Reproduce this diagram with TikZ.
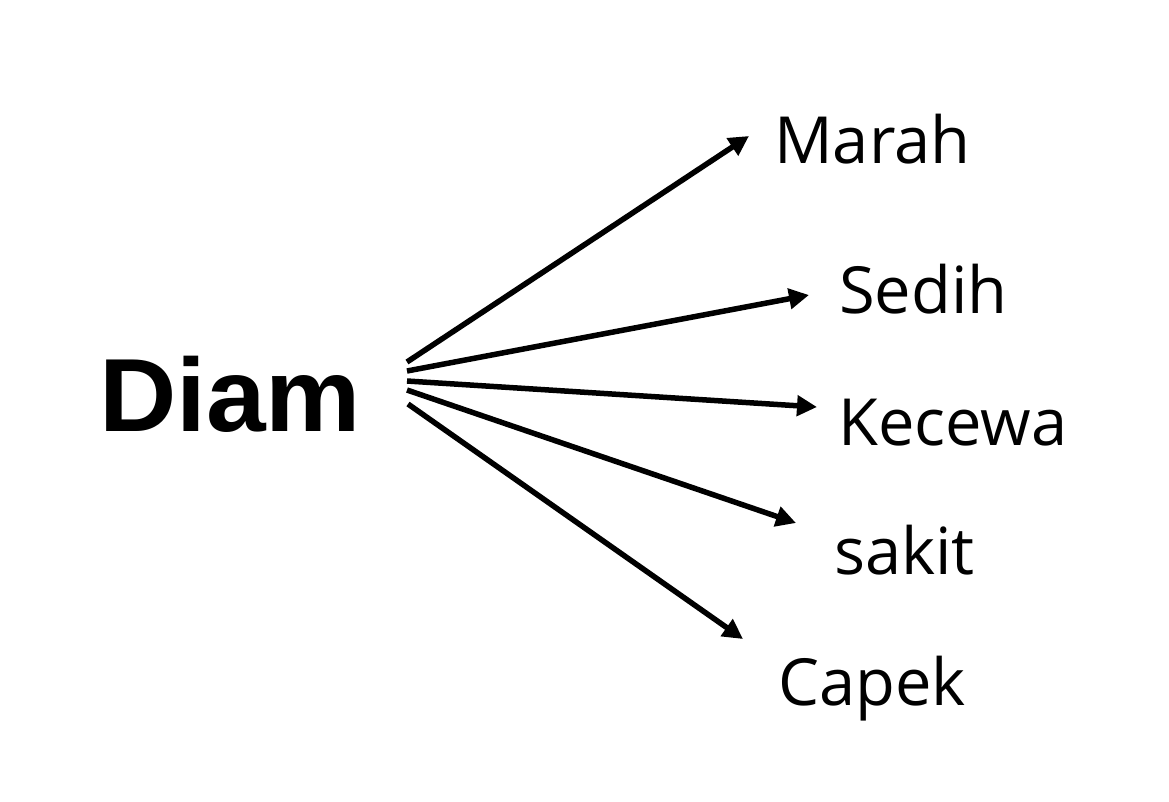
\documentclass[tikz,border=0pt]{standalone}
\usepackage{fontspec}
\setmainfont{Open Sans}
\newfontfamily\diamfont{Liberation Sans}
\usetikzlibrary{arrows.meta}
\tikzset{
  lbl/.style={anchor=base west, inner sep=0pt, font=\fontsize{65}{65}\selectfont},
  conn/.style={line width=5.5pt, -{Triangle[length=20pt,width=20pt]}}
}
\begin{document}
\begin{tikzpicture}[x=1pt,y=-1pt]
\path[fill=white] (0,0) rectangle (1169,801);
\useasboundingbox (0,0) rectangle (1169,801);
\node[anchor=base west, inner sep=0pt, xscale=1.03, font=\diamfont\bfseries\fontsize{104}{104}\selectfont] (diam) at (99,431) {Diam};
\node[lbl] (marah) at (774,163) {Marah};
\node[lbl] (sedih) at (839,313) {Sedih};
\node[lbl] (kecewa) at (838,445) {Kecewa};
\node[lbl] (sakit) at (834,574) {sakit};
\node[lbl] (capek) at (778,705) {Capek};
\coordinate (s1) at (407,362);
\coordinate (s2) at (407,371);
\coordinate (s3) at (407,381);
\coordinate (s4) at (407,390);
\coordinate (s5) at (408,404);
\coordinate (t1) at (749,136);
\coordinate (t2) at (809,295);
\coordinate (t3) at (817,407);
\coordinate (t4) at (796,523);
\coordinate (t5) at (743,639);
\draw[conn] (s1) -- (t1);
\draw[conn] (s2) -- (t2);
\draw[conn] (s3) -- (t3);
\draw[conn] (s4) -- (t4);
\draw[conn] (s5) -- (t5);
\end{tikzpicture}
\end{document}
